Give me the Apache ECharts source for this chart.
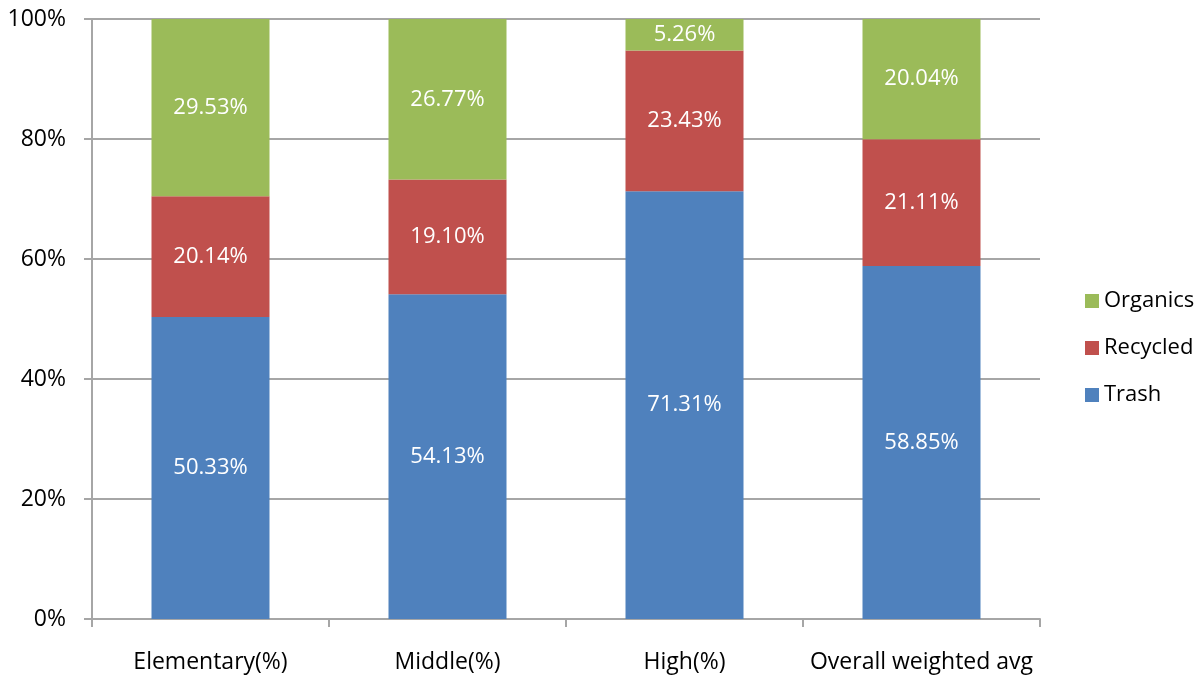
<!DOCTYPE html>
<html>
<head>
<meta charset="utf-8">
<script src="https://cdn.jsdelivr.net/npm/echarts@6/dist/echarts.min.js"></script>
<style>
  html, body { margin: 0; padding: 0; background: #fff; }
  #chart { width: 1204px; height: 677px; }
</style>
</head>
<body>
<div id="chart"></div>
<script>
  // 类别与数据
  var categories = ['Elementary(%)', 'Middle(%)', 'High(%)', 'Overall weighted avg'];
  var trash = [50.33, 54.13, 71.31, 58.85];
  var recycled = [20.14, 19.10, 23.43, 21.11];
  var organics = [29.53, 26.77, 5.26, 20.04];
  var legendOrder = ['Organics', 'Recycled', 'Trash'];

  var font = '"Open Sans", sans-serif';
  var axisGray = '#a6a6a6';

  function barSeries(name, data, color) {
    return {
      name: name,
      type: 'bar',
      stack: 'total',
      barWidth: 118,
      data: data,
      itemStyle: { color: color },
      label: {
        show: true,
        position: 'inside',
        color: '#fff',
        fontFamily: font,
        fontSize: 22,
        formatter: function (p) { return p.value.toFixed(2) + '%'; }
      }
    };
  }

  var myChart = echarts.init(document.getElementById('chart'));
  var option = {
    animation: false,
    grid: { left: 92, right: 164, top: 19, bottom: 58, containLabel: false },
    legend: {
      data: legendOrder,
      orient: 'vertical',
      left: 1080,
      top: 285,
      itemWidth: 14,
      itemHeight: 14,
      itemGap: 25,
      icon: 'rect',
      textStyle: { fontFamily: font, fontSize: 22, color: '#000' }
    },
    xAxis: {
      type: 'category',
      data: categories,
      axisLine: { lineStyle: { color: axisGray, width: 2 } },
      axisTick: { show: true, interval: 0, length: 8, lineStyle: { color: axisGray, width: 2 } },
      axisLabel: { interval: 0, margin: 32, fontFamily: font, fontSize: 23, color: '#000' }
    },
    yAxis: {
      type: 'value',
      min: 0,
      max: 100,
      interval: 20,
      axisLine: { show: true, lineStyle: { color: axisGray, width: 2 } },
      axisTick: { show: true, length: 8, lineStyle: { color: axisGray, width: 2 } },
      splitLine: { lineStyle: { color: axisGray, width: 2 } },
      axisLabel: {
        margin: 26,
        fontFamily: font,
        fontSize: 23,
        color: '#000',
        formatter: '{value}%'
      }
    },
    series: [
      barSeries('Trash', trash, '#4F81BD'),
      barSeries('Recycled', recycled, '#C0504D'),
      barSeries('Organics', organics, '#9BBB59')
    ]
  };
  myChart.setOption(option);
</script>
</body>
</html>
